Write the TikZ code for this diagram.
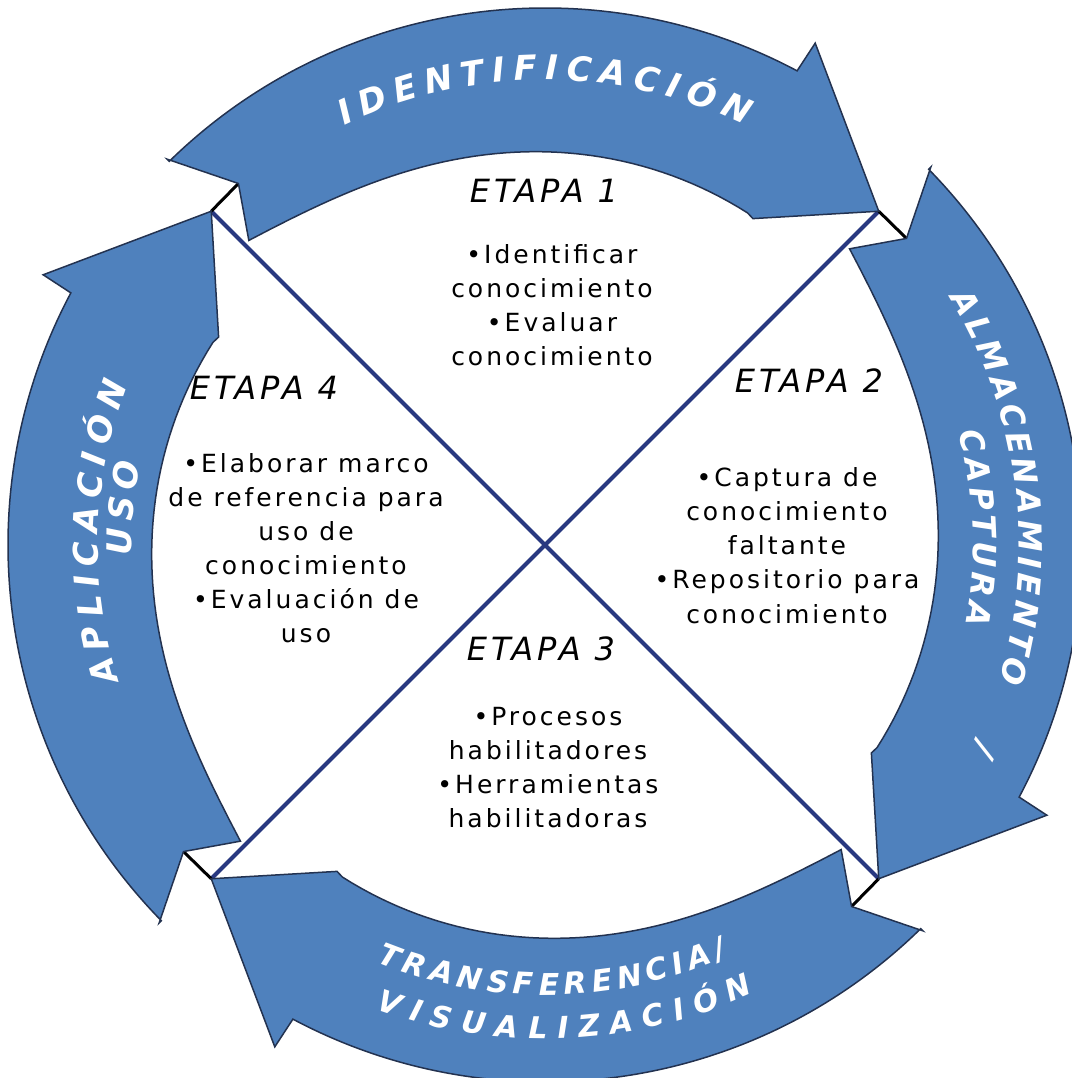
\documentclass[tikz,border=0pt]{standalone}
\usepackage{fontspec}
\setmainfont{DejaVu Sans}
\newfontfamily\bodyfont[LetterSpace=12]{DejaVu Sans}
\newfontfamily\etapafont[LetterSpace=12]{DejaVu Sans}
\usetikzlibrary{decorations.text}
\definecolor{arrowblue}{RGB}{79,129,189}
\definecolor{arrowedge}{RGB}{35,50,80}
\definecolor{navyline}{RGB}{40,56,128}
\newcommand\arclbl{\color{white}\bfseries\itshape\fontsize{34}{40}\selectfont}
\newcommand\arclblmid{\color{white}\bfseries\itshape\fontsize{32}{38}\selectfont}
\newcommand\arclblsmall{\color{white}\bfseries\itshape\fontsize{30}{36}\selectfont}
\begin{document}
\begin{tikzpicture}[x=1pt,y=1pt,
  bodytxt/.style={font=\bodyfont\fontsize{25}{30}\selectfont, anchor=base, inner sep=0pt},
  etapa/.style={font=\etapafont\itshape\fontsize{32}{36}\selectfont, anchor=base, inner sep=0pt},
  arrowshape/.style={fill=arrowblue, draw=arrowedge, line width=1.5pt, line join=miter},
  xline/.style={draw=navyline, line width=4pt},
  joinline/.style={draw=black, line width=3pt},
  lbl/.style={decorate, decoration={text along path, text align={fit to path}, text={|\arclbl|#1}}},
  lblmid/.style={decorate, decoration={text along path, text align={fit to path}, text={|\arclblmid|#1}}},
  lblmidc/.style={decorate, decoration={text along path, text align=center, text={|\arclblmid|#1}}},
  lblsmall/.style={decorate, decoration={text along path, text align={fit to path}, text={|\arclblsmall|#1}}}]
\useasboundingbox (-545,-533) rectangle (526,545);
% corners of the X and notches of the arrow tails
\coordinate (c1) at (135:472);
\coordinate (c2) at (45:472);
\coordinate (c3) at (-45:472);
\coordinate (c4) at (-135:472);
\coordinate (n1) at (130.3:474);
\coordinate (n2) at (40.3:474);
\coordinate (n3) at (-49.7:474);
\coordinate (n4) at (-139.7:474);
% the X
\draw[xline] (c1) -- (c3);
\draw[xline] (c2) -- (c4);
% short black joins
\draw[joinline] (c1) -- (n1);
\draw[joinline] (c2) -- (n2);
\draw[joinline] (c3) -- (n3);
\draw[joinline] (c4) -- (n4);
% four curved arrows
\foreach \k in {0,1,2,3}{
  \pgfmathsetmacro\a{-90*\k}
  \pgfmathsetmacro\ta{134.4+\a}
  \pgfmathsetmacro\tb{62+\a}
  \pgfmathsetmacro\tbarb{61.7+\a}
  \pgfmathsetmacro\ttip{45+\a}
  \pgfmathsetmacro\tin{57.5+\a}
  \pgfmathsetmacro\ia{58.6+\a}
  \pgfmathsetmacro\ic{134.2+\a}
  \pgfmathsetmacro\tn{130.3+\a}
  \filldraw[arrowshape] (\ta:540) -- (\ta:537)
    arc[start angle=\ta, end angle=\tb, radius=537pt]
    -- (\tbarb:570) -- (\ttip:472) -- (\tin:387)
    -- plot[variable=\q, domain=\ia:\ic, samples=50]
       (\q:{389+8*(\q-(\a)-58.6)/61.4+26*((\q-(\a)-58.6)/75.6)^6})
    -- (\tn:474) -- cycle;
}
% arrow labels
\path[lbl={IDENTIFICACIÓN}] (115.5:465) arc[start angle=115.5, end angle=64.5, radius=465pt];
\path[lblmid={ALMACENAMIENTO}] (31.4:474) arc[start angle=31.4, end angle=-16.8, radius=474pt];
\path[lblmidc={/}] (-22.5:474) arc[start angle=-22.5, end angle=-27.5, radius=474pt];
\path[lblmid={CAPTURA}] (15.2:428) arc[start angle=15.2, end angle=-10.7, radius=428pt];
\path[lblsmall={TRANSFERENCIA/}] (-112:450) arc[start angle=-112, end angle=-66, radius=450pt];
\path[lblsmall={VISUALIZACIÓN}] (-110:494) arc[start angle=-110, end angle=-65, radius=494pt];
\path[lbl={APLICACIÓN}] (197.7:447) arc[start angle=197.7, end angle=159, radius=447pt];
\path[lbl={USO}] (181.4:413) arc[start angle=181.4, end angle=168.5, radius=413pt];
% stage titles
\node[etapa] (e1) at (-1,342) {ETAPA 1};
\node[etapa] (e2) at (264,152) {ETAPA 2};
\node[etapa] (e3) at (-4,-115) {ETAPA 3};
\node[etapa] (e4) at (-281,145) {ETAPA 4};
% stage texts
\foreach \s [count=\i] in {{•Identificar},{conocimiento},{•Evaluar},{conocimiento}}
  \node[bodytxt] (ba\i) at (7,{281-34*(\i-1)}) {\s};
\foreach \s [count=\i] in {{•Captura de},{conocimiento},{faltante},{•Repositorio para},{conocimiento}}
  \node[bodytxt] (bb\i) at (242,{58-34*(\i-1)}) {\s};
\foreach \s [count=\i] in {{•Procesos},{habilitadores},{•Herramientas},{habilitadoras}}
  \node[bodytxt] (bc\i) at (3,{-180-34*(\i-1)}) {\s};
\foreach \s [count=\i] in {{•Elaborar marco},{de referencia para},{uso de},{conocimiento},{•Evaluación de},{uso}}
  \node[bodytxt] (bd\i) at (-239,{72-34*(\i-1)}) {\s};
\end{tikzpicture}
\end{document}
